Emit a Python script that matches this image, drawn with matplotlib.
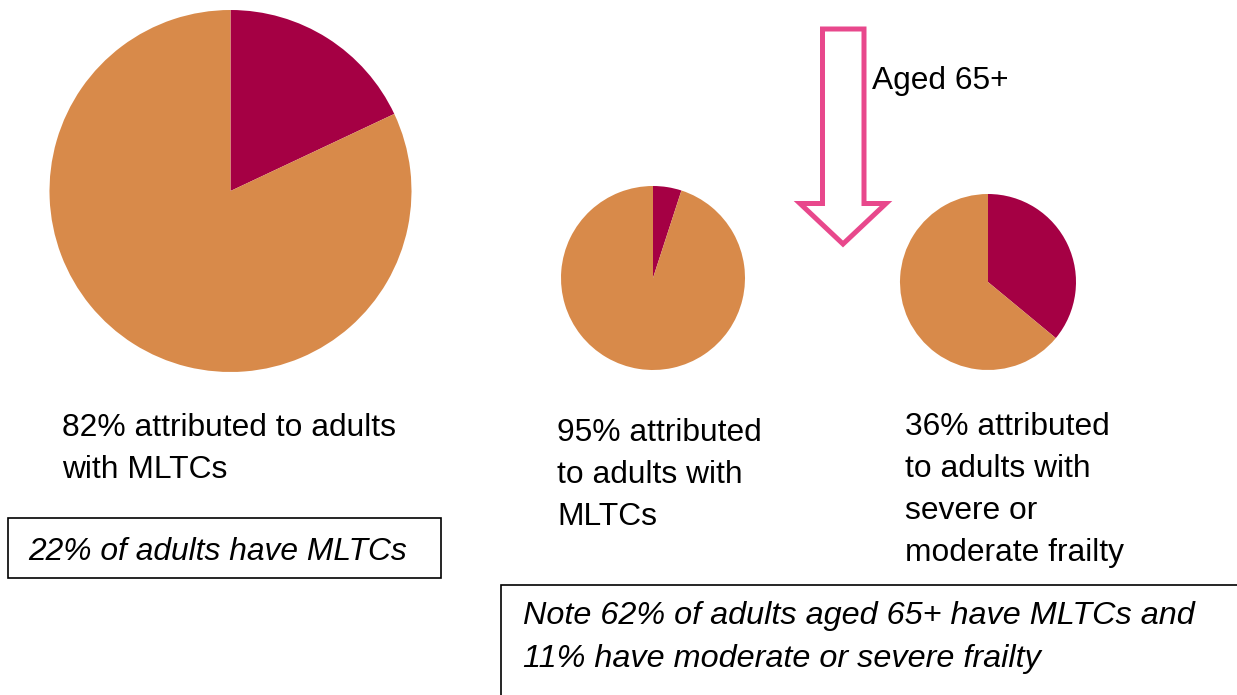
import matplotlib
matplotlib.use("Agg")
import matplotlib.pyplot as plt
from matplotlib.patches import Polygon, Rectangle

# ---- data ----
pie_labels = ["All adults", "Aged 65+ (MLTCs)", "Aged 65+ (frailty)"]
attributed_share = [18, 5, 36]      # maroon slice (%)
other_share = [82, 95, 64]          # orange slice (%)
caption_texts = [
    "82% attributed to adults\nwith MLTCs",
    "95% attributed\nto adults with\nMLTCs",
    "36% attributed\nto adults with\nsevere or\nmoderate frailty",
]
box_text = "22% of adults have MLTCs"
note_text = "Note 62% of adults aged 65+ have MLTCs and\n11% have moderate or severe frailty"
arrow_text = "Aged 65+"

MAROON = "#A50044"
ORANGE = "#D88A4A"
PINK = "#E8488C"

W, H = 1237, 695
fig = plt.figure(figsize=(W / 100, H / 100), dpi=100)
ax = fig.add_axes([0, 0, 1, 1])

def Y(y):  # pixel (top-down) -> data (bottom-up)
    return H - y

# pie layout (pixel positions)
centers = [(230.5, 191), (653, 278), (988, 282)]
radii = [181, 92, 88]

for (cx, cy), r, a, o in zip(centers, radii, attributed_share, other_share):
    ax.pie([a, o], colors=[MAROON, ORANGE], startangle=90, counterclock=False,
           center=(cx, Y(cy)), radius=r, frame=True,
           wedgeprops=dict(linewidth=0))

FONT = ["Liberation Sans", "DejaVu Sans"]
FS = 22.9
LS = 42
DY = 3

caption_pos = [(62, 425), (557, 430), (905, 424)]
for (x, y), txt in zip(caption_pos, caption_texts):
    for i, line in enumerate(txt.split("\n")):
        ax.text(x, Y(y + DY + i * LS), line, fontsize=FS, family=FONT,
                ha="left", va="center", color="black")

# box with italic text
ax.add_patch(Rectangle((8, Y(578)), 433, 60, fill=False, edgecolor="black",
                       linewidth=1.2))
ax.text(28, Y(549 + DY), box_text, fontsize=FS, family=FONT, style="italic",
        ha="left", va="center", color="black")

# note box (extends beyond the figure)
ax.add_patch(Rectangle((501, Y(760)), 800, 175, fill=False, edgecolor="black",
                       linewidth=1.2))
for i, line in enumerate(note_text.split("\n")):
    ax.text(523, Y(613 + DY + i * 43), line, fontsize=23.3,
            family=["Liberation Sans Narrow", "Liberation Sans", "DejaVu Sans"],
            style="italic", ha="left", va="center", color="black")

# hollow down arrow
arrow_pts = [(822.5, 29), (864, 29), (864, 203.5), (886, 203.5), (843, 244),
             (800, 203.5), (822.5, 203.5)]
ax.add_patch(Polygon([(x, Y(y)) for x, y in arrow_pts], closed=True,
                     facecolor="white", edgecolor=PINK, linewidth=3.6,
                     joinstyle="miter"))
ax.text(872, Y(78 + DY), arrow_text, fontsize=FS, family=FONT, ha="left",
        va="center", color="black")

ax.set_xlim(0, W)
ax.set_ylim(0, H)
ax.set_aspect("auto")
ax.axis("off")

fig.savefig("out.png", dpi=100)
